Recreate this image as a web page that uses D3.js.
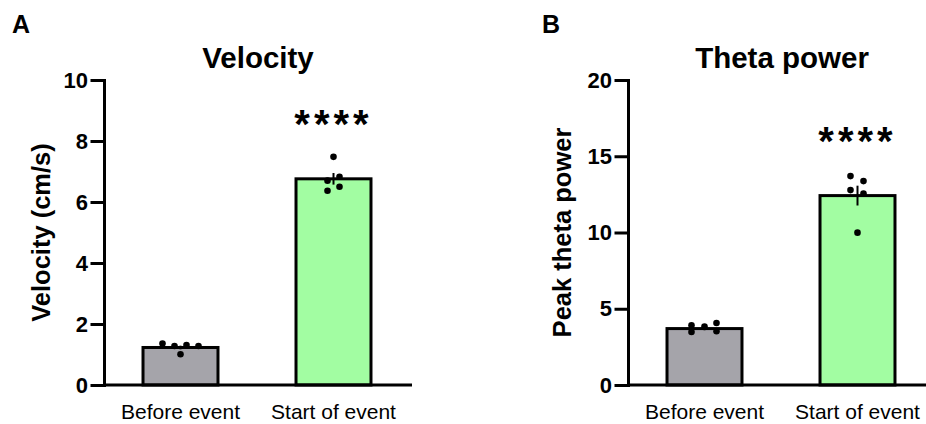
<!DOCTYPE html>
<html>
<head>
<meta charset="utf-8">
<script src="https://cdn.jsdelivr.net/npm/d3@7"></script>
<style>
  body { margin: 0; background: #fff; }
  svg text { font-family: "Liberation Sans", Arial, sans-serif; fill: #000; }
</style>
</head>
<body>
<div id="chart"></div>
<script>
// Two bar + dot panels (Prism style)

const groups = ['Before event', 'Start of event'];

// Panel A - velocity
const velocityMean = [1.23, 6.76];
const velocitySem = [0.06, 0.19];
const velocityPoints = [
    [1.36, 1.28, 1.31, 1.28, 1.01],
    [7.48, 6.70, 6.83, 6.37, 6.50]
];
const velocityTicks = [0, 2, 4, 6, 8, 10];

// Panel B - theta power
const thetaMean = [3.70, 12.42];
const thetaSem = [0.11, 0.65];
const thetaPoints = [
    [3.91, 3.48, 3.84, 4.07, 3.52],
    [13.70, 13.37, 12.78, 12.56, 9.99]
];
const thetaTicks = [0, 5, 10, 15, 20];

const barColors = ['#a5a4aa', '#a2fda2'];

const width = 926, height = 424;

const svg = d3.select('#chart').append('svg')
    .attr('width', width)
    .attr('height', height);

function drawPanel(opts) {
    const axisX = opts.axisX;
    const y = d3.scaleLinear()
        .domain([0, opts.max])
        .range([385, 80]);

    const x = d3.scaleBand()
        .domain(groups)
        .range([axisX, axisX + 306])
        .paddingInner(0.51)
        .paddingOuter(0.255);

    const g = svg.append('g');

    // bars
    g.selectAll('rect.bar')
        .data(groups)
        .enter()
        .append('rect')
        .attr('class', 'bar')
        .attr('x', d => x(d))
        .attr('width', x.bandwidth())
        .attr('y', (d, i) => y(opts.mean[i]))
        .attr('height', (d, i) => y(0) - y(opts.mean[i]))
        .attr('fill', (d, i) => barColors[i])
        .attr('stroke', '#000')
        .attr('stroke-width', 3);

    // error bars (SEM)
    g.selectAll('line.err')
        .data(groups)
        .enter()
        .append('line')
        .attr('class', 'err')
        .attr('x1', d => x(d) + x.bandwidth() / 2)
        .attr('x2', d => x(d) + x.bandwidth() / 2)
        .attr('y1', (d, i) => y(opts.mean[i] - opts.sem[i]))
        .attr('y2', (d, i) => y(opts.mean[i] + opts.sem[i]))
        .attr('stroke', '#000')
        .attr('stroke-width', 2);

    // individual points
    groups.forEach((grp, i) => {
        const cx = x(grp) + x.bandwidth() / 2;
        g.selectAll('circle.pt' + i)
            .data(opts.points[i])
            .enter()
            .append('circle')
            .attr('cx', (d, j) => cx + opts.jitter[i][j])
            .attr('cy', d => y(d))
            .attr('r', 3.3)
            .attr('fill', '#000');
    });

    // y axis
    const yAxis = g.append('g')
        .attr('transform', `translate(${axisX},0)`)
        .call(d3.axisLeft(y).tickValues(opts.ticks).tickSize(12).tickSizeOuter(0).tickPadding(4));
    yAxis.selectAll('path, line')
        .attr('stroke', '#000')
        .attr('stroke-width', 3)
        .attr('stroke-linecap', 'square');
    yAxis.selectAll('text')
        .style('font-size', '22px')
        .style('font-weight', 'bold')
        .attr('fill', '#000');

    // x axis
    const xAxis = g.append('g')
        .attr('transform', `translate(0,${y(0)})`)
        .call(d3.axisBottom(x).tickSize(0).tickSizeOuter(0).tickPadding(19));
    xAxis.select('path.domain')
        .attr('d', `M${axisX},0H${axisX + 308}`)
        .attr('stroke', '#000')
        .attr('stroke-width', 3);
    xAxis.selectAll('text')
        .style('font-size', '21px')
        .attr('fill', '#000');

    // y label
    g.append('text')
        .attr('transform', `translate(${opts.labelX},${(y(0) + y(opts.max)) / 2}) rotate(-90)`)
        .attr('text-anchor', 'middle')
        .style('font-size', '25.5px')
        .style('font-weight', 'bold')
        .text(opts.yLabel);

    // title
    g.append('text')
        .attr('x', axisX + 154)
        .attr('y', 68)
        .attr('text-anchor', 'middle')
        .style('font-size', '29.5px')
        .style('font-weight', 'bold')
        .text(opts.title);

    // panel letter
    g.append('text')
        .attr('x', opts.letterX)
        .attr('y', 33)
        .style('font-size', '25px')
        .style('font-weight', 'bold')
        .text(opts.letter);

    // significance stars
    g.append('text')
        .attr('x', x(groups[1]) + x.bandwidth() / 2)
        .attr('y', y(opts.starAt) + 14)
        .attr('text-anchor', 'middle')
        .style('font-size', '40px')
        .style('font-weight', 'bold')
        .style('letter-spacing', '4px')
        .text('****');
}

drawPanel({
    axisX: 104, max: 10, ticks: velocityTicks,
    mean: velocityMean, sem: velocitySem, points: velocityPoints,
    jitter: [[-18, -6, 6, 18, 0], [0, -6, 6, -6, 6]],
    yLabel: 'Velocity (cm/s)', labelX: 50,
    title: 'Velocity', letter: 'A', letterX: 12,
    starAt: 8.55
});

drawPanel({
    axisX: 628, max: 20, ticks: thetaTicks,
    mean: thetaMean, sem: thetaSem, points: thetaPoints,
    jitter: [[-13, -13, 0, 12, 12], [-7, 6, -7, 6, 0]],
    yLabel: 'Peak theta power', labelX: 571,
    title: 'Theta power', letter: 'B', letterX: 542,
    starAt: 16.0
});
</script>
</body>
</html>
